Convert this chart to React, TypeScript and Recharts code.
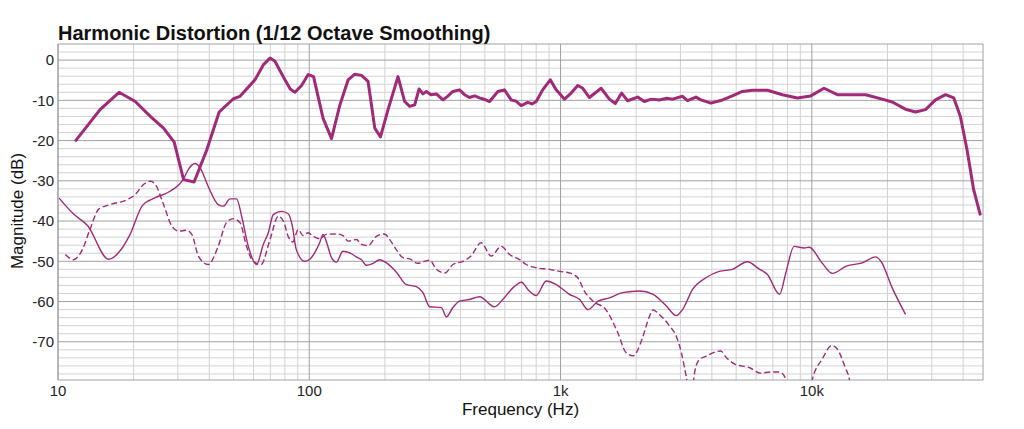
import React from 'react';
import { LineChart, Line, XAxis, YAxis, CartesianGrid } from 'recharts';

// [frequency Hz, magnitude dB]
const fundamental: [number, number][] = [
  [11.7, -20.2], [14.7, -12.3], [17.5, -8.0], [20.3, -10.3], [23.3, -14.0], [26.3, -16.9],
  [29.0, -20.4], [31.6, -29.7], [34.8, -30.3], [39.1, -22.3], [43.8, -12.9], [49.9, -9.6],
  [53.0, -9.0], [60.8, -4.9], [65.6, -1.2], [69.8, 0.5], [73, -0.3], [80, -4.9], [84, -7.2],
  [87.7, -8.0], [93.2, -6.3], [99, -3.6], [104, -4.1], [113.5, -14.5], [122.6, -19.5],
  [132.3, -11.2], [142.8, -4.9], [151.7, -3.5], [161.4, -3.8], [171.4, -5.3], [182.3, -16.9],
  [192, -19.1], [205.8, -12.3], [225.5, -4.1], [239.7, -10.3], [251, -11.5], [262.8, -11.1],
  [273.4, -7.2], [283.5, -8.4], [292.4, -7.8], [305, -8.6], [320.5, -8.4], [340.4, -9.9],
  [355, -9.0], [373, -7.8], [396, -7.4], [415, -8.6], [434, -9.3], [455, -8.9], [476, -9.4],
  [500, -9.8], [522, -10.3], [563, -7.8], [598, -7.4], [636, -9.9], [665, -10.2], [697, -11.3],
  [741, -10.5], [770, -10.9], [800, -10.3], [849, -7.4], [910, -4.9], [961, -7.4], [1037, -9.7],
  [1102, -8.2], [1171, -6.3], [1226, -7.0], [1303, -9.3], [1450, -7.0], [1564, -9.7],
  [1652, -10.8], [1750, -8.2], [1849, -10.1], [2027, -9.2], [2153, -10.3], [2300, -9.7],
  [2472, -9.9], [2650, -9.5], [2791, -9.7], [3058, -9.0], [3200, -10.1], [3457, -9.2],
  [3620, -9.9], [3964, -10.7], [4410, -9.9], [4831, -8.9], [5295, -7.8], [5801, -7.5],
  [6658, -7.5], [7638, -8.6], [8758, -9.4], [9900, -8.9], [11180, -7.0], [12630, -8.6],
  [16370, -8.6], [19060, -9.7], [20890, -10.4], [23600, -12.2], [25870, -12.9], [28350, -12.3],
  [31060, -9.9], [34040, -8.6], [36730, -9.4], [39020, -14.0], [41470, -22.3], [44060, -32.2],
  [46880, -38.6],
];

const harmonic2: [number, number][] = [
  [10.1, -34.3], [11.6, -38.4], [13.1, -41.1], [15.9, -49.5], [17.4, -47.9], [19.3, -43.5],
  [21.7, -36.1], [24.4, -34.2], [27.9, -32.6], [31.6, -29.5], [33.0, -27.2], [35.1, -25.7],
  [36.8, -26.8], [39.6, -31.4], [43.4, -35.9], [45.5, -36.3], [48.4, -34.5], [51.4, -34.5],
  [53.8, -38.8], [57.2, -46.3], [61.7, -50.8], [65.6, -45.8], [68.7, -42.9], [71.9, -38.4],
  [77.6, -37.6], [82.4, -38.2], [85.5, -41], [88.8, -47.1], [95.8, -50], [100.5, -49.5],
  [105, -47.9], [110, -45.4], [113.5, -43.3], [116.8, -45], [122.6, -49.1], [128.1, -50.2],
  [136.2, -47.5], [145, -47.9], [154, -48.9], [161.4, -49.6], [169, -51.0], [179.6, -50.5],
  [190.8, -49.6], [202.9, -50.4], [222.2, -52.7], [243.5, -55.8], [266.8, -56.3],
  [283.5, -57.8], [301.5, -61.3], [335.5, -61.5], [351.5, -63.8], [373, -61.5], [396, -59.9],
  [434, -59.5], [476, -58.8], [546, -61.3], [589, -59.5], [646, -56.6], [700, -55.2],
  [741, -57.0], [800, -58.5], [877, -54.9], [961, -55.8], [1085, -58.2], [1191, -59.5],
  [1285, -62.0], [1410, -59.9], [1564, -59.1], [1765, -57.8], [2067, -57.4], [2334, -58.2],
  [2636, -61.1], [2887, -63.5], [3058, -62.0], [3353, -57.0], [3787, -54.1], [4279, -52.5],
  [4831, -52.0], [5540, -50.1], [6166, -51.9], [6658, -53.3], [7440, -58.2], [7880, -52.9],
  [8500, -46.3], [9330, -46.7], [9760, -46.5], [10980, -50.4], [12070, -53.0], [13720, -51.2],
  [15870, -50.4], [17960, -48.9], [18830, -50.0], [20890, -56.6], [23600, -63.2],
];

const harmonic3: [number, number][] = [
  [10.7, -48.3], [11.5, -49.6], [12.5, -47.1], [13.4, -42.1], [14.5, -37.1], [16.1, -35.9],
  [18.8, -34.7], [20.3, -33.4], [21.9, -30.9], [23.3, -30.1], [24.4, -30.9], [26.3, -35.9],
  [28.4, -41.3], [30.2, -42.5], [32.5, -42.3], [34.1, -43.3], [36.2, -48.7], [39.6, -50.8],
  [43.4, -46.3], [46.8, -40.4], [49.9, -39.4], [53.0, -40.4], [56.3, -46.3], [59.8, -50.0],
  [64.3, -50.8], [69.8, -44.6], [75.3, -38.8], [78.9, -40.0], [82.4, -43.8], [86, -45.2],
  [90.3, -42.1], [94.4, -43.6], [99, -42.9], [103.6, -43.8], [110, -44.4], [116.8, -43.3],
  [128.1, -43.2], [136.2, -43.6], [142.8, -45.0], [154, -44.6], [161.4, -45.8], [171.4, -46.1],
  [185, -43.8], [199.5, -43.2], [209, -44.6], [222, -47.1], [236, -49.1], [251, -49.4],
  [270, -50.5], [301.5, -49.7], [320.5, -52.0], [346.5, -52.9], [373, -50.8], [409, -50.0],
  [440, -48.7], [483, -45.4], [530, -48.7], [580, -46.3], [627, -48.3], [687, -49.6],
  [730, -50.8], [800, -51.6], [904, -52.0], [991, -52.5], [1085, -52.9], [1171, -54.1],
  [1244, -57.4], [1345, -59.9], [1515, -62.0], [1688, -67.7], [1823, -72.7], [1945, -73.5],
  [2109, -69.4], [2249, -64.0], [2334, -62.1], [2472, -63.2], [2717, -66.1], [2887, -68.6],
  [3026, -72.7], [3160, -78.5], [3260, -83], [3340, -82], [3420, -77.5], [3560, -74.5],
  [3787, -73.6], [4340, -72.3], [4564, -73.9], [4950, -75.6], [5627, -76.4], [6260, -77.8],
  [6862, -77.5], [7440, -77.5], [7880, -79.3], [8100, -84], [9800, -84], [10060, -79.3],
  [10980, -74.4], [12000, -70.9], [12630, -71.8], [13580, -76.4], [14100, -79.3], [14400, -83],
];

const xTicks = [10, 100, 1000, 10000];
const xTickLabels = ['10', '100', '1k', '10k'];
const yTicks = [0, -10, -20, -30, -40, -50, -60, -70];

const X_MIN = 10;
const X_MAX = 48000;
const Y_MIN = -79.5;
const Y_MAX = 4;

const COLOR = '#a02a78';
const FONT = '"Liberation Sans", Arial, Helvetica, sans-serif';

const toRows = (pts: [number, number][]) => pts.map(([f, db]) => ({ f, db }));

// grid positions (decades and 2 dB steps)
const minorX: number[] = [];
const majorX: number[] = [X_MIN, X_MAX];
for (let d = 10; d <= 10000; d *= 10) {
  majorX.push(d);
  for (let k = 2; k <= 9; k++) {
    if (d * k < X_MAX) minorX.push(d * k);
  }
}
const minorY: number[] = [];
const majorY: number[] = [Y_MIN, Y_MAX];
for (let v = -78; v <= 2; v += 2) {
  if (v % 10 === 0) majorY.push(v);
  else minorY.push(v);
}

export default function App() {
  return (
    <div style={{ position: 'absolute', left: 0, top: 0, width: 1024, height: 429, background: '#fff' }}>
      <LineChart
        width={1024}
        height={429}
        margin={{ top: 44, right: 41, bottom: 0, left: 0 }}
      >
        <CartesianGrid
          stroke="#d2d2d2"
          strokeWidth={1}
          horizontalValues={minorY}
          verticalValues={minorX}
        />
        <CartesianGrid
          stroke="#a0a0a0"
          strokeWidth={1}
          horizontalValues={majorY}
          verticalValues={majorX}
        />
        <XAxis
          dataKey="f"
          type="number"
          scale="log"
          domain={[X_MIN, X_MAX]}
          allowDataOverflow
          ticks={xTicks}
          tickFormatter={(v: number) => xTickLabels[xTicks.indexOf(v)] ?? String(v)}
          axisLine={false}
          tickLine={false}
          tickSize={0}
          tickMargin={5}
          height={49}
          tick={{ fontSize: 15, fill: '#222', fontFamily: FONT }}
          interval={0}
        />
        <YAxis
          dataKey="db"
          type="number"
          domain={[Y_MIN, Y_MAX]}
          allowDataOverflow
          ticks={yTicks}
          axisLine={false}
          tickLine={false}
          tickSize={0}
          tickMargin={4}
          width={58}
          tick={{ fontSize: 15, fill: '#222', fontFamily: FONT }}
          interval={0}
        />
        <Line
          data={toRows(harmonic3)}
          dataKey="db"
          type="monotone"
          stroke={COLOR}
          strokeWidth={1.4}
          strokeDasharray="6 3"
          dot={false}
          isAnimationActive={false}
        />
        <Line
          data={toRows(harmonic2)}
          dataKey="db"
          type="monotone"
          stroke={COLOR}
          strokeWidth={1.4}
          dot={false}
          isAnimationActive={false}
        />
        <Line
          data={toRows(fundamental)}
          dataKey="db"
          type="linear"
          stroke={COLOR}
          strokeWidth={3}
          strokeLinejoin="round"
          dot={false}
          isAnimationActive={false}
        />
      </LineChart>
      <svg
        width={1024}
        height={429}
        style={{ position: 'absolute', left: 0, top: 0, pointerEvents: 'none' }}
      >
        <text x={58} y={39.5} fontSize={20} fontWeight="bold" fill="#111" fontFamily={FONT}>
          Harmonic Distortion (1/12 Octave Smoothing)
        </text>
        <text x={520.5} y={415} fontSize={17} fill="#111" textAnchor="middle" fontFamily={FONT}>
          Frequency (Hz)
        </text>
        <text
          x={-211}
          y={22.5}
          transform="rotate(-90)"
          fontSize={17}
          fill="#111"
          textAnchor="middle"
          fontFamily={FONT}
        >
          Magnitude (dB)
        </text>
      </svg>
    </div>
  );
}
